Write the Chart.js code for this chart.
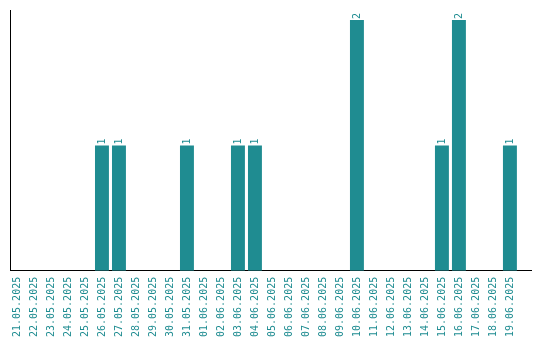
<!DOCTYPE html>
<html>
<head>
<meta charset="utf-8">
<script src="https://cdn.jsdelivr.net/npm/chart.js@4"></script>
<style>
  html, body { margin: 0; padding: 0; background: #fff; }
  #wrap { width: 540px; height: 340px; }
</style>
</head>
<body>
<div id="wrap"><canvas id="dailyChart"></canvas></div>
<script>
const days = ["21.05.2025", "22.05.2025", "23.05.2025", "24.05.2025", "25.05.2025", "26.05.2025",
    "27.05.2025", "28.05.2025", "29.05.2025", "30.05.2025", "31.05.2025", "01.06.2025",
    "02.06.2025", "03.06.2025", "04.06.2025", "05.06.2025", "06.06.2025", "07.06.2025",
    "08.06.2025", "09.06.2025", "10.06.2025", "11.06.2025", "12.06.2025", "13.06.2025",
    "14.06.2025", "15.06.2025", "16.06.2025", "17.06.2025", "18.06.2025", "19.06.2025"];
const counts = [0, 0, 0, 0, 0, 1, 1, 0, 0, 0, 1, 0, 0, 1, 1, 0, 0, 0, 0, 0, 2, 0, 0, 0, 0, 1, 2, 0, 0, 1];

const teal = "#1f8c91";
const labelFont = "10px 'DejaVu Sans Mono'";

// value labels above the bars, rotated like the axis labels
const barValues = {
    id: "barValues",
    afterDatasetsDraw(chart) {
        const ctx = chart.ctx;
        const meta = chart.getDatasetMeta(0);
        ctx.save();
        ctx.font = labelFont;
        ctx.fillStyle = teal;
        ctx.textAlign = "left";
        ctx.textBaseline = "middle";
        meta.data.forEach((bar, i) => {
            if (!counts[i]) return;
            ctx.save();
            ctx.translate(bar.x, bar.y - 1);
            ctx.rotate(-Math.PI / 2);
            ctx.fillText(String(counts[i]), 0, 0);
            ctx.restore();
        });
        ctx.restore();
    }
};

document.addEventListener("DOMContentLoaded", () => {
    const ctxDaily = document.getElementById("dailyChart");
    new Chart(ctxDaily, {
        type: "bar",
        data: {
            datasets: [{
                // linear x axis so the day axis can run a bit past the last day
                data: counts.map((v, i) => ({ x: i, y: v })),
                backgroundColor: teal,
                borderWidth: 0,
                barPercentage: 0.82,
                categoryPercentage: 1
            }]
        },
        options: {
            responsive: true,
            maintainAspectRatio: false,
            animation: false,
            layout: { padding: { left: 10, right: 9, top: 10, bottom: -3 } },
            plugins: { legend: { display: false }, tooltip: { enabled: false } },
            scales: {
                x: {
                    type: "linear",
                    offset: false,
                    min: -0.41,
                    max: 30.24,
                    afterBuildTicks: (scale) => {
                        scale.ticks = days.map((d, i) => ({ value: i }));
                    },
                    grid: { display: false, drawTicks: false, offset: false },
                    border: { display: true, color: "#000", width: 1 },
                    ticks: {
                        color: teal,
                        font: { family: "DejaVu Sans Mono", size: 10 },
                        minRotation: 90,
                        maxRotation: 90,
                        autoSkip: false,
                        padding: 6,
                        callback: (value) => days[value] || ""
                    }
                },
                y: {
                    beginAtZero: true,
                    max: 2.08,
                    grid: { display: false, drawTicks: false },
                    border: { display: true, color: "#000", width: 1 },
                    ticks: { display: false }
                }
            }
        },
        plugins: [barValues]
    });
});
</script>
</body>
</html>
